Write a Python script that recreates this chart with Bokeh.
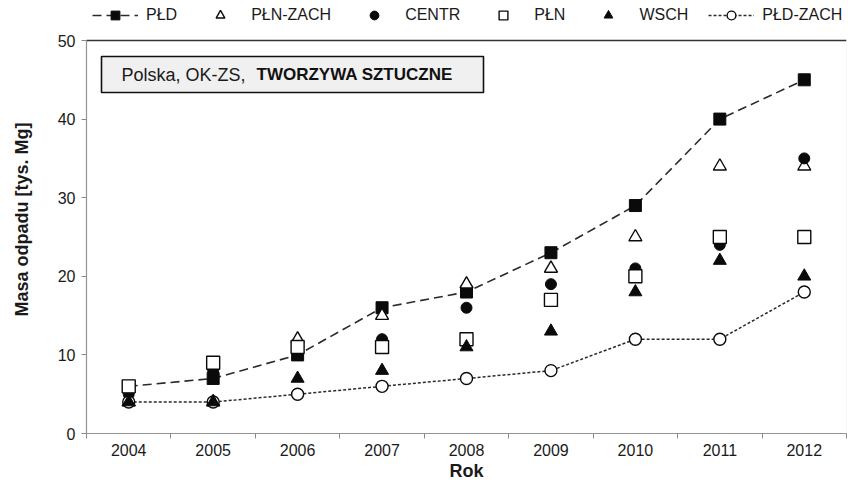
from bokeh.plotting import figure
from bokeh.models import (Range1d, FixedTicker, Legend, LegendItem, Span,
                          BoxAnnotation, Label)
from bokeh.embed import file_html
from bokeh.resources import INLINE

# ---- data ----
years = [2004, 2005, 2006, 2007, 2008, 2009, 2010, 2011, 2012]
pld = [6, 7, 10, 16, 18, 23, 29, 40, 45]
pln_zach = [4, 4, 12, 15, 19, 21, 25, 34, 34]
centr = [5, 8, 11, 12, 16, 19, 21, 24, 35]
pln = [6, 9, 11, 11, 12, 17, 20, 25, 25]
wsch = [4, 4, 7, 8, 11, 13, 18, 22, 20]
pld_zach = [4, 4, 5, 6, 7, 8, 12, 12, 18]
y_ticks = [0, 10, 20, 30, 40, 50]
series_names = ["PŁD", "PŁN-ZACH", "CENTR", "PŁN", "WSCH", "PŁD-ZACH"]
box_text_plain = "Polska, OK-ZS,"
box_text_bold = "TWORZYWA  SZTUCZNE"
y_title = "Masa odpadu  [tys. Mg]"
x_title = "Rok"

FONT = "Liberation Sans"
TXT = "#1a1a1a"
AX = "#8a8a8a"

# frame: x 86..846, y 0..433 (plot box itself spans y 40..433, legend above it)
FRAME_H = 433
BOX_TOP = 40
x0, x1 = years[0] - 0.5, years[-1] + 0.5
y_max = y_ticks[-1]
y_end = y_max * FRAME_H / (FRAME_H - BOX_TOP)

p = figure(width=848, height=486, output_backend="svg", toolbar_location=None,
           title=None,
           x_range=Range1d(x0, x1), y_range=Range1d(y_ticks[0], y_end),
           min_border_left=86, min_border_right=2, min_border_top=0,
           min_border_bottom=53)
p.background_fill_color = "white"
p.border_fill_color = "white"
p.outline_line_color = None
p.xgrid.visible = False
p.ygrid.visible = False

# axes
xa = p.xaxis[0]
xa.ticker = FixedTicker(ticks=years, minor_ticks=[y - 0.5 for y in years] + [years[-1] + 0.5])
xa.major_tick_out = 0
xa.major_tick_in = 0
xa.minor_tick_out = 5
xa.minor_tick_in = 0
xa.minor_tick_line_color = AX
xa.axis_line_color = AX
xa.axis_line_width = 1.2
xa.major_label_text_font = FONT
xa.major_label_text_font_size = "16px"
xa.major_label_text_color = TXT
xa.major_label_standoff = 5
xa.axis_label = x_title
xa.axis_label_text_font = FONT
xa.axis_label_text_font_size = "18px"
xa.axis_label_text_font_style = "bold"
xa.axis_label_text_color = TXT
xa.axis_label_standoff = 2

ya = p.yaxis[0]
ya.ticker = FixedTicker(ticks=y_ticks, minor_ticks=[])
ya.bounds = (y_ticks[0], y_max)
ya.major_tick_out = 5
ya.major_tick_in = 0
ya.major_tick_line_color = AX
ya.minor_tick_out = 0
ya.minor_tick_in = 0
ya.axis_line_color = AX
ya.axis_line_width = 1.2
ya.major_label_text_font = FONT
ya.major_label_text_font_size = "16px"
ya.major_label_text_color = TXT
ya.major_label_standoff = 6
ya.axis_label = y_title
ya.axis_label_text_font = FONT
ya.axis_label_text_font_size = "18px"
ya.axis_label_text_font_style = "bold"
ya.axis_label_text_color = TXT
ya.axis_label_standoff = 23

# plot box: light right border, dark top border
p.add_layout(BoxAnnotation(left=x0, right=x1, bottom=y_ticks[0], top=y_max,
                           fill_alpha=0, line_color="#cfcfcf", line_width=1))
p.add_layout(Span(location=y_max, dimension="width", line_color="#333333", line_width=1.6))

# ---- series ----
LINE = "#2a2a2a"
MK = "#0a0a0a"
r_pld_line = p.line(years, pld, line_color=LINE, line_width=1.6, line_dash="9 5")
r_pld = p.scatter(years, pld, marker="square", size=12, fill_color=MK, line_color=MK)
r_plnz = p.scatter(years, pln_zach, marker="triangle", size=13, fill_color="white",
                   line_color=MK, line_width=1.4)
r_centr = p.scatter(years, centr, marker="circle", size=11, fill_color=MK, line_color=MK)
r_pln = p.scatter(years, pln, marker="square", size=13, fill_color="white",
                  line_color=MK, line_width=1.4)
r_pldz_line = p.line(years, pld_zach, line_color=LINE, line_width=1.5, line_dash="3 2")
r_pldz = p.scatter(years, pld_zach, marker="circle", size=12, fill_color="white",
                   line_color=MK, line_width=1.4)
r_wsch = p.scatter(years, wsch, marker="triangle", size=13, fill_color=MK, line_color=MK)

# ---- legend (above the plot box) ----
items = [
    LegendItem(label=series_names[0], renderers=[r_pld_line, r_pld]),
    LegendItem(label=series_names[1], renderers=[r_plnz]),
    LegendItem(label=series_names[2], renderers=[r_centr]),
    LegendItem(label=series_names[3], renderers=[r_pln]),
    LegendItem(label=series_names[4], renderers=[r_wsch]),
    LegendItem(label=series_names[5], renderers=[r_pldz_line, r_pldz]),
]
leg = Legend(items=items, orientation="horizontal", location=(6, FRAME_H - 26),
             glyph_width=46, glyph_height=22, label_standoff=8, spacing=20,
             padding=0, margin=0, border_line_color=None,
             background_fill_alpha=0,
             label_text_font=FONT, label_text_font_size="16px",
             label_text_color=TXT)
p.add_layout(leg)

# ---- annotation box ----
px_per_x = 760 / (x1 - x0)
px_per_y = FRAME_H / y_end
def dx(px):
    return x0 + (px - 86) / px_per_x
def dy(py):
    return y_end - py / px_per_y

p.add_layout(BoxAnnotation(left=dx(101), right=dx(483), top=dy(56), bottom=dy(92),
                           fill_color="#f0f0f0", fill_alpha=1,
                           line_color="#111111", line_width=1.6, line_alpha=1))
p.add_layout(Label(x=dx(121), y=dy(74), text=box_text_plain, text_font=FONT,
                   text_font_size="18px", text_color=TXT, text_baseline="middle",
                   level="overlay"))
p.add_layout(Label(x=dx(256), y=dy(74), text=box_text_bold, text_font=FONT,
                   text_font_size="17px", text_font_style="bold", text_color="#111111",
                   text_baseline="middle", level="overlay"))

open("out.html", "w").write(file_html(p, INLINE))
